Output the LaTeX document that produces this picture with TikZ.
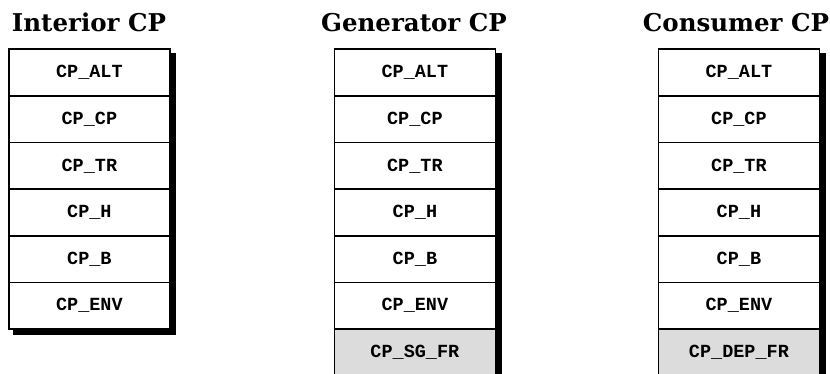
\documentclass[tikz,border=0pt]{standalone}
\usepackage{fontspec}
\newfontfamily\boxfont{Liberation Mono}
\newfontfamily\headfont{DejaVu Serif}
\definecolor{framegray}{RGB}{220,220,220}
\begin{document}
\begin{tikzpicture}[x=1pt,y=-1pt,
  rowbox/.style={draw=black, line width=1.8pt, fill=white,
    minimum width=161pt, minimum height=46.6pt, inner sep=0pt,
    font=\boxfont\bfseries\fontsize{18.5}{20}\selectfont, anchor=north west},
  frbox/.style={rowbox, fill=framegray},
  coltitle/.style={font=\headfont\bfseries\fontsize{24.5}{28}\selectfont, anchor=base}]
\useasboundingbox (0,0) rectangle (830,374);

% column titles
\node[coltitle] (tInt) at (89,32) {Interior CP};
\node[coltitle] (tGen) at (414,32) {Generator CP};
\node[coltitle] (tCon) at (736,32) {Consumer CP};

% drop shadows behind the stacks
\fill[black] (13,53.5) rectangle (176,335);
\fill[black] (338,53.5) rectangle (502,390);
\fill[black] (662,53.5) rectangle (826,390);

% Interior CP stack
\foreach \lab [count=\k from 0] in {CP\_ALT,CP\_CP,CP\_TR,CP\_H,CP\_B,CP\_ENV}
  \node[rowbox] (i\k) at (8,48.5+46.6*\k) {\lab};

% Generator CP stack
\foreach \lab [count=\k from 0] in {CP\_ALT,CP\_CP,CP\_TR,CP\_H,CP\_B,CP\_ENV}
  \node[rowbox] (g\k) at (333.5,48.5+46.6*\k) {\lab};
\node[frbox] (g6) at (333.5,48.5+46.6*6) {CP\_SG\_FR};

% Consumer CP stack
\foreach \lab [count=\k from 0] in {CP\_ALT,CP\_CP,CP\_TR,CP\_H,CP\_B,CP\_ENV}
  \node[rowbox] (c\k) at (657.5,48.5+46.6*\k) {\lab};
\node[frbox] (c6) at (657.5,48.5+46.6*6) {CP\_DEP\_FR};
\end{tikzpicture}
\end{document}
